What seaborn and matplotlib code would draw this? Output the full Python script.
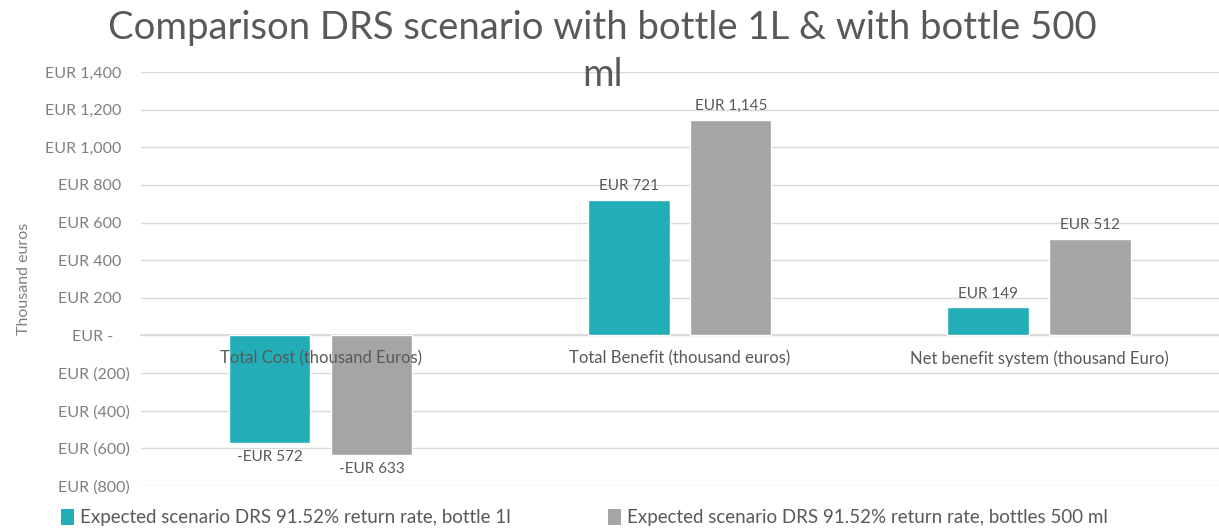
import matplotlib
matplotlib.use("Agg")
import matplotlib.pyplot as plt
import seaborn as sns
import pandas as pd
from matplotlib.patches import Patch
from matplotlib.ticker import FuncFormatter

categories = [
    "Total Cost (thousand Euros)",
    "Total Benefit (thousand euros)",
    "Net benefit system (thousand Euro)",
]
series_names = [
    "Expected scenario DRS 91.52% return rate, bottle 1l",
    "Expected scenario DRS 91.52% return rate, bottles 500 ml",
]
values_1l = [-572, 721, 149]
values_500ml = [-633, 1145, 512]
y_ticks = [-800, -600, -400, -200, 0, 200, 400, 600, 800, 1000, 1200, 1400]
title_lines = ["Comparison DRS scenario with bottle 1L & with bottle 500", "ml"]

colors = ["#23ADB7", "#A5A5A5"]
text_grey = "#7F7F7F"
label_grey = "#595959"

df = pd.DataFrame({
    "category": categories * 2,
    "series": [series_names[0]] * 3 + [series_names[1]] * 3,
    "value": values_1l + values_500ml,
})

sns.set_theme(style="white")
plt.rcParams["font.family"] = ["Lato", "DejaVu Sans"]

fig = plt.figure(figsize=(12.19, 5.30), dpi=100)
ax = fig.add_axes([0.1157, 0.083, 0.884, 0.781])

sns.barplot(data=df, x="category", y="value", hue="series", order=categories,
            hue_order=series_names, palette=colors, width=0.567, gap=0.2,
            saturation=1, legend=False, ax=ax)

ax.set_ylim(-800, 1400)
ax.set_xlim(-0.5, 2.5)
ax.set_yticks(y_ticks)


def eur(v, pos=None):
    if v == 0:
        return "EUR -    "
    if v < 0:
        return f"EUR ({abs(v):,.0f})"
    return f"EUR {v:,.0f}  "


ax.yaxis.set_major_formatter(FuncFormatter(eur))
ax.grid(axis="y", color="#D9D9D9", linewidth=1)
ax.set_axisbelow(True)
# category names sit on the zero line and are drawn over the bars
ax.xaxis.set_zorder(5)
for side in ["top", "right", "left"]:
    ax.spines[side].set_visible(False)
ax.spines["bottom"].set_position(("data", 0))
ax.spines["bottom"].set_color("#D9D9D9")
ax.spines["bottom"].set_zorder(0.5)
ax.tick_params(axis="both", length=0, colors=text_grey, labelsize=11.5)
ax.tick_params(axis="x", pad=11, labelsize=12, labelcolor=label_grey)
ax.tick_params(axis="y", pad=8)
for lbl in ax.get_yticklabels():
    lbl.set_horizontalalignment("right")
ax.set_xlabel("")
ax.set_ylabel("Thousand euros", color=text_grey, fontsize=11.5, labelpad=10)

# value labels on each bar
for container in ax.containers:
    labels = []
    for bar in container:
        h = bar.get_height()
        labels.append(f"-EUR {abs(h):,.0f}" if h < 0 else f"EUR {h:,.0f}")
    ax.bar_label(container, labels=labels, padding=5, color=label_grey, fontsize=11)

# two-line title, the second line wrapped over the top of the plot
fig.text(0.494, 0.947, title_lines[0], ha="center", va="center",
         fontsize=27.5, color=label_grey)
fig.text(0.494, 0.858, title_lines[1], ha="center", va="center",
         fontsize=27.5, color=label_grey)

handles = [Patch(facecolor=c, edgecolor="none") for c in colors]
fig.legend(handles, series_names, loc="lower left", bbox_to_anchor=(0.036, -0.025),
           ncol=2, frameon=False, fontsize=13.5, labelcolor=label_grey,
           handlelength=0.7, handleheight=0.9, handletextpad=0.3, columnspacing=5.2)

fig.savefig("out.png", dpi=100)
